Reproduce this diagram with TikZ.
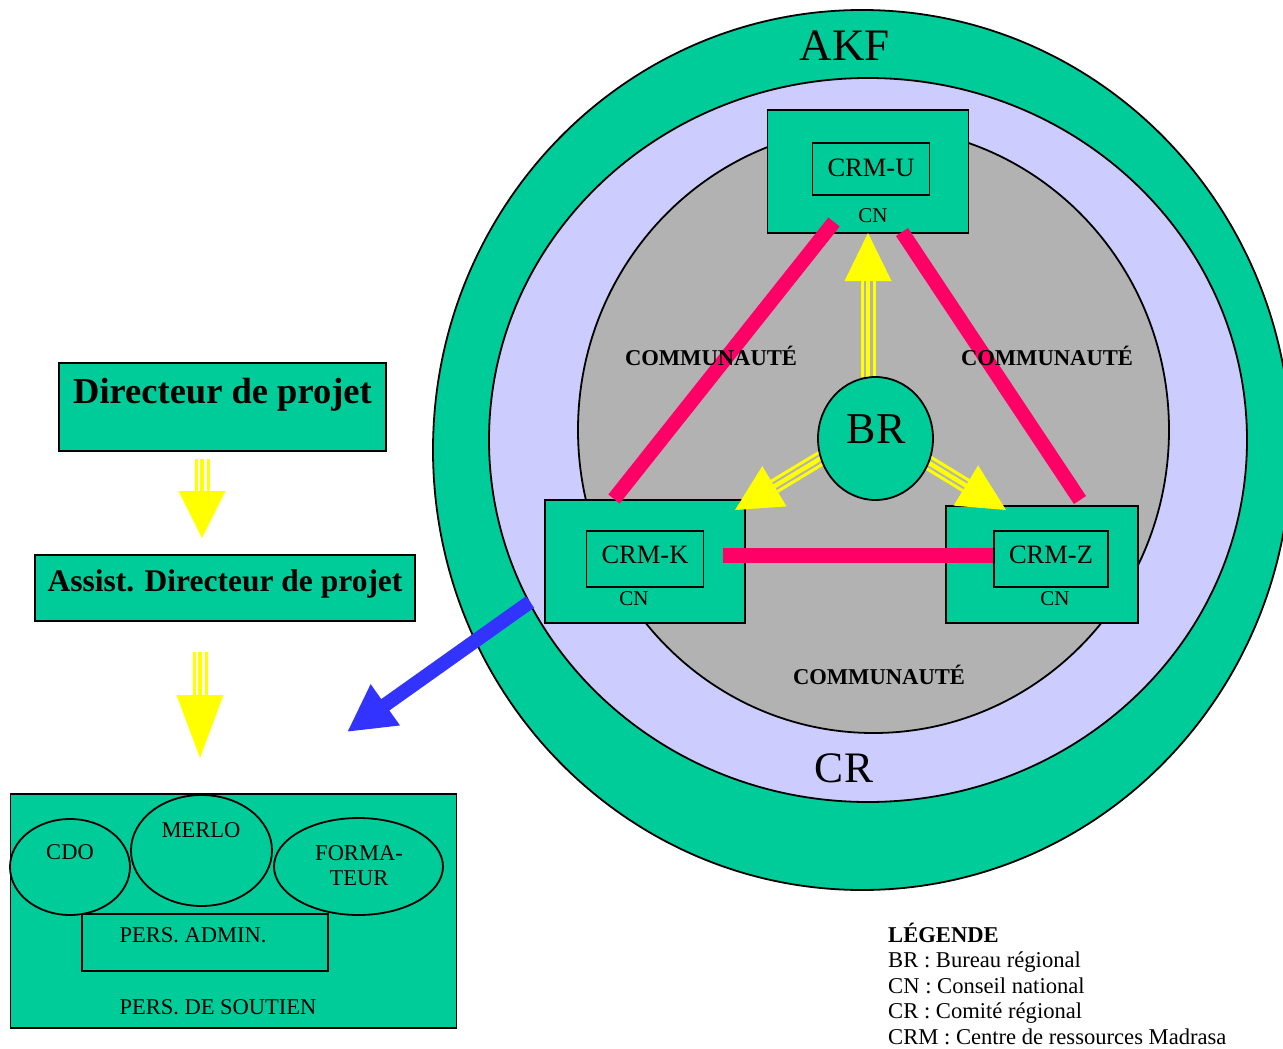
\documentclass[tikz,border=0pt]{standalone}
\usepackage{fontspec}
\setmainfont{Liberation Serif}
\usetikzlibrary{shapes.geometric,calc,arrows.meta}
\definecolor{akfgreen}{RGB}{0,204,153}
\definecolor{crlav}{RGB}{204,204,255}
\definecolor{comgray}{RGB}{178,178,178}
\definecolor{linkpink}{RGB}{255,0,102}
\definecolor{arrblue}{RGB}{51,51,255}
\definecolor{arryellow}{RGB}{255,255,0}
\newcommand\myfs[1]{\fontsize{#1}{#1}\selectfont}
% yellow triple-shaft arrow: start, tip, head length
\newcommand\yarrow[3]{%
  \coordinate (#2-hb) at ($(#2)!#3pt!(#1)$);
  \draw[yshaft, line width=4.5pt] (#1) -- (#2-hb);
  \draw[yshaft, line width=3pt] ($(#1)!6pt!90:(#2-hb)$) -- ($(#2-hb)!6pt!-90:(#1)$);
  \draw[yshaft, line width=3pt] ($(#1)!6pt!-90:(#2-hb)$) -- ($(#2-hb)!6pt!90:(#1)$);
  \fill[arryellow] (#2) -- ($(#2-hb)!23.5pt!90:(#2)$) -- ($(#2-hb)!23.5pt!-90:(#2)$) -- cycle;
}
\begin{document}
\begin{tikzpicture}[x=1pt,y=-1pt,
  box/.style={draw=black, line width=1.8pt, fill=akfgreen, rectangle, inner sep=0pt},
  oval/.style={draw=black, line width=1.8pt, fill=akfgreen, ellipse, inner sep=0pt},
  pinkline/.style={linkpink, line width=14.5pt},
  yshaft/.style={arryellow},
  txt/.style={inner sep=0pt, text=black, anchor=base},
  lgd/.style={inner sep=0pt, text=black, anchor=base west, font=\myfs{22.6}}]
\useasboundingbox (0,0) rectangle (1283,1049);
\fill[white] (0,0) rectangle (1283,1049);
% nested rings
\node[oval, minimum width=858pt, minimum height=880pt] (akf) at (862,450) {};
\node[oval, fill=crlav, minimum width=758pt, minimum height=724pt] (cr) at (868,440) {};
\node[oval, fill=comgray, minimum width=591pt, minimum height=606pt] (com) at (873.5,430) {};
\node[txt, font=\myfs{45}] (akflbl) at (845,60) {AKF};
\node[txt, font=\myfs{43.5}] (crlbl) at (844,782) {CR};
% CRM boxes
\node[box, minimum width=201pt, minimum height=123pt] (cnu) at (868,171.5) {};
\node[box, minimum width=117pt, minimum height=52pt] (crmu) at (871,169) {};
\node[txt, font=\myfs{26.5}] (crmulbl) at (871,176) {CRM-U};
\node[txt, font=\myfs{21}] (cnulbl) at (873,222) {CN};
\node[box, minimum width=200pt, minimum height=123pt] (cnk) at (645,561.5) {};
\node[box, minimum width=117pt, minimum height=56pt] (crmk) at (645,559) {};
\node[txt, font=\myfs{26.5}] (crmklbl) at (645,563) {CRM-K};
\node[txt, font=\myfs{21}] (cnklbl) at (634,605) {CN};
\node[box, minimum width=192pt, minimum height=117pt] (cnz) at (1042,564.5) {};
\node[box, minimum width=114pt, minimum height=56pt] (crmz) at (1051,559) {};
\node[txt, font=\myfs{26.5}] (crmzlbl) at (1051,563) {CRM-Z};
\node[txt, font=\myfs{21}] (cnzlbl) at (1055,605) {CN};
% pink links
\coordinate (pu1) at (834,222); \coordinate (pk1) at (614,499);
\coordinate (pu2) at (902,232); \coordinate (pz1) at (1080,500);
\coordinate (pk2) at (723,555.5);
\draw[pinkline] (pu1) -- (pk1);
\draw[pinkline] (pu2) -- (pz1);
\draw[pinkline] (pk2) -- (crmz.west |- pk2);
% yellow arrows from BR
\coordinate (brtop) at (868,377); \coordinate (tipU) at (868,233);
\coordinate (brleft) at (823,457); \coordinate (tipK) at (735,510);
\coordinate (brright) at (924,460); \coordinate (tipZ) at (1006,510);
\yarrow{brtop}{tipU}{48}
\yarrow{brleft}{tipK}{46}
\yarrow{brright}{tipZ}{47}
% BR
\node[oval, minimum width=115pt, minimum height=123pt] (br) at (875.5,438.5) {};
\node[txt, font=\myfs{44}] (brlbl) at (876,443) {BR};
% community labels
\node[txt, font=\bfseries\myfs{22.6}] (com1) at (711,365.5) {COMMUNAUTÉ};
\node[txt, font=\bfseries\myfs{22.6}] (com2) at (1047,365.5) {COMMUNAUTÉ};
\node[txt, font=\bfseries\myfs{22.6}] (com3) at (879,684.5) {COMMUNAUTÉ};
% left hierarchy
\node[box, minimum width=327pt, minimum height=88pt] (dir) at (222.5,407) {};
\node[txt, font=\bfseries\myfs{36.5}] (dirlbl) at (222.5,403) {Directeur de projet};
\node[box, minimum width=380pt, minimum height=66pt] (asst) at (225,588) {};
\node[txt, font=\bfseries\myfs{31.5}] (asstlbl) at (225,591) {Assist. Directeur de projet};
\coordinate (a1s) at (202,459); \coordinate (a1t) at (202,538);
\yarrow{a1s}{a1t}{47}
\coordinate (a2s) at (200,652); \coordinate (a2t) at (200,758);
\yarrow{a2s}{a2t}{63}
% staff box
\node[box, minimum width=446pt, minimum height=234pt] (staff) at (233.5,911) {};
\node[oval, minimum width=120pt, minimum height=96pt] (cdo) at (70,867) {};
\node[oval, minimum width=141pt, minimum height=111pt] (merlo) at (201.5,850.5) {};
\node[oval, minimum width=169pt, minimum height=97pt] (forma) at (358.5,866.5) {};
\node[box, minimum width=246pt, minimum height=57pt] (admin) at (205,942.5) {};
\node[txt, font=\myfs{22.5}] (cdolbl) at (70,859) {CDO};
\node[txt, font=\myfs{22.5}] (merlolbl) at (201,837) {MERLO};
\node[txt, font=\myfs{22.5}] (formalbl1) at (359,860) {FORMA-};
\node[txt, font=\myfs{22.5}] (formalbl2) at (359,885) {TEUR};
\node[txt, font=\myfs{22.5}] (adminlbl) at (193,942) {PERS. ADMIN.};
\node[txt, font=\myfs{22.5}] (soutlbl) at (218,1014) {PERS. DE SOUTIEN};
% blue arrow
\coordinate (bstart) at (530,602); \coordinate (btip) at (347,732);
\draw[arrblue, line width=14pt, -{Triangle[length=47pt,width=47pt]}] (bstart) -- (btip);
% legend
\node[lgd, font=\bfseries\myfs{22.6}] (leg0) at (888,942) {LÉGENDE};
\node[lgd] (leg1) at (888,967.5) {BR : Bureau régional};
\node[lgd] (leg2) at (888,993) {CN : Conseil national};
\node[lgd] (leg3) at (888,1018.5) {CR : Comité régional};
\node[lgd] (leg4) at (888,1044) {CRM : Centre de ressources Madrasa};
\end{tikzpicture}
\end{document}
